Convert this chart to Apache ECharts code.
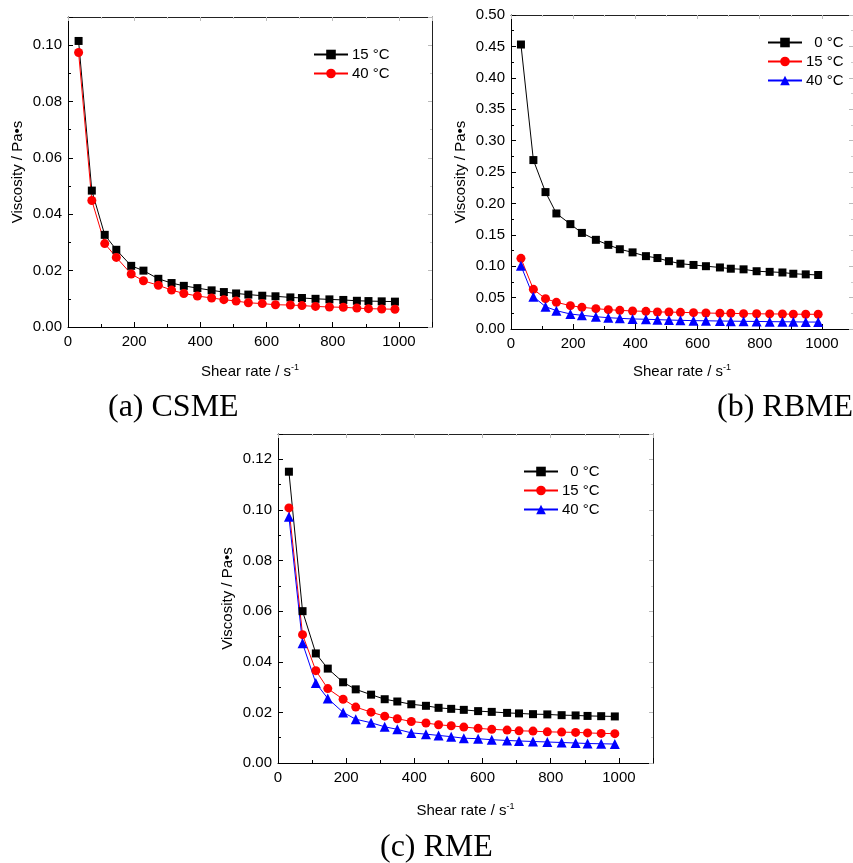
<!DOCTYPE html>
<html>
<head>
<meta charset="utf-8">
<script src="https://cdn.jsdelivr.net/npm/echarts@6/dist/echarts.min.js"></script>
<style>
  html, body { margin: 0; padding: 0; background: #fff; }
  #chart { width: 853px; height: 863px; }
</style>
</head>
<body>
<div id="chart"></div>
<script>
// shear rate (s^-1), shared by all three panels
const shearRate = [32, 72, 111, 146, 191, 228, 273, 313, 350, 391, 434, 471, 508, 545, 587, 627, 672, 707, 748, 790, 832, 873, 908, 948, 988];

// (a) CSME
const csme15 = [0.1015, 0.0484, 0.0327, 0.0274, 0.0217, 0.0200, 0.0171, 0.0156, 0.0146, 0.0138, 0.0130, 0.0124, 0.0119, 0.0115, 0.0111, 0.0109, 0.0105, 0.0103, 0.0100, 0.0098, 0.0096, 0.0093, 0.0092, 0.0091, 0.0090];
const csme40 = [0.0974, 0.0449, 0.0296, 0.0247, 0.0188, 0.0164, 0.0148, 0.0131, 0.0119, 0.0110, 0.0103, 0.0097, 0.0092, 0.0086, 0.0083, 0.0079, 0.0078, 0.0076, 0.0073, 0.0071, 0.0070, 0.0067, 0.0065, 0.0064, 0.0063];

// (b) RBME
const rbme0 = [0.453, 0.269, 0.218, 0.184, 0.167, 0.153, 0.142, 0.134, 0.127, 0.122, 0.116, 0.113, 0.108, 0.104, 0.102, 0.100, 0.098, 0.096, 0.095, 0.092, 0.091, 0.090, 0.088, 0.087, 0.086];
const rbme15 = [0.1125, 0.0632, 0.0483, 0.0425, 0.0372, 0.0345, 0.0324, 0.0308, 0.0297, 0.0287, 0.0281, 0.0271, 0.0270, 0.0265, 0.0260, 0.0255, 0.0250, 0.0250, 0.0244, 0.0242, 0.0240, 0.0239, 0.0236, 0.0235, 0.0234];
const rbme40 = [0.1008, 0.0515, 0.0356, 0.0292, 0.0239, 0.0218, 0.0196, 0.0180, 0.0170, 0.0160, 0.0155, 0.0149, 0.0143, 0.0138, 0.0133, 0.0131, 0.0127, 0.0125, 0.0122, 0.0120, 0.0117, 0.0115, 0.0114, 0.0111, 0.0110];

// (c) RME
const rme0 = [0.1151, 0.0600, 0.0433, 0.0373, 0.0319, 0.0291, 0.0270, 0.0252, 0.0243, 0.0232, 0.0226, 0.0218, 0.0214, 0.0210, 0.0205, 0.0202, 0.0198, 0.0196, 0.0193, 0.0192, 0.0189, 0.0188, 0.0186, 0.0185, 0.0184];
const rme15 = [0.1008, 0.0507, 0.0365, 0.0294, 0.0252, 0.0221, 0.0201, 0.0185, 0.0175, 0.0164, 0.0158, 0.0151, 0.0147, 0.0142, 0.0137, 0.0133, 0.0130, 0.0127, 0.0126, 0.0123, 0.0122, 0.0121, 0.0119, 0.0117, 0.0116];
const rme40 = [0.0973, 0.0473, 0.0316, 0.0255, 0.0200, 0.0173, 0.0159, 0.0143, 0.0133, 0.0119, 0.0114, 0.0109, 0.0104, 0.0098, 0.0096, 0.0092, 0.0089, 0.0087, 0.0085, 0.0083, 0.0081, 0.0079, 0.0077, 0.0076, 0.0075];

const captions = ['(a) CSME', '(b) RBME', '(c) RME'];

const FONT = '"Liberation Sans", Arial, sans-serif';
const SERIF = '"Liberation Serif", "Times New Roman", serif';

const zip = (xs, ys) => xs.map((x, i) => [x, ys[i]]);

const chart = echarts.init(document.getElementById('chart'));

// panel boxes in pixels
const panels = [
    { left: 68, top: 17, width: 364, height: 310, yMax: 0.11, yStep: 0.02, xGap: 36 },
    { left: 511, top: 15, width: 352, height: 314, yMax: 0.5, yStep: 0.05, xGap: 34 },
    { left: 278, top: 434, width: 375, height: 329, yMax: 0.13, yStep: 0.02, xGap: 39 },
];

const grids = [];
const xAxes = [];
const yAxes = [];

panels.forEach((p, i) => {
    grids.push({ left: p.left, top: p.top, width: p.width, height: p.height, containLabel: false });
    // bottom axis
    xAxes.push({
        type: 'value', gridIndex: i, min: 0, max: 1100, interval: 200,
        name: 'Shear rate / s{sup|-1}', nameLocation: 'middle', nameGap: p.xGap,
        nameTextStyle: {
            fontFamily: FONT, fontSize: 15, color: '#000',
            rich: { sup: { fontFamily: FONT, fontSize: 9, color: '#000', padding: [0, 0, 9, 0] } },
        },
        axisLine: { show: true, onZero: false, lineStyle: { color: '#000', width: 1 } },
        axisTick: { inside: true, length: 5, lineStyle: { color: '#000' } },
        minorTick: { show: true, splitNumber: 2, length: 3, lineStyle: { color: '#000' } },
        axisLabel: {
            fontFamily: FONT, fontSize: 15, color: '#000', margin: 7, showMaxLabel: false,
            formatter: v => String(v),
        },
        splitLine: { show: false },
    });
    // top mirror axis
    xAxes.push({
        type: 'value', gridIndex: i, position: 'top', min: 0, max: 1100, interval: 200,
        axisLine: { show: true, onZero: false, lineStyle: { color: '#222', width: 1 } },
        axisTick: { inside: true, length: 4, lineStyle: { color: '#bbb' } },
        minorTick: { show: true, splitNumber: 2, length: 2, lineStyle: { color: '#ccc' } },
        axisLabel: { show: false },
        splitLine: { show: false },
    });
    // left axis
    yAxes.push({
        type: 'value', gridIndex: i, min: 0, max: p.yMax, interval: p.yStep,
        name: 'Viscosity / Pa•s', nameLocation: 'middle', nameGap: 43,
        nameTextStyle: { fontFamily: FONT, fontSize: 15, color: '#000' },
        axisLine: { show: true, onZero: false, lineStyle: { color: '#000', width: 1 } },
        axisTick: { inside: true, length: 5, lineStyle: { color: '#000' } },
        minorTick: { show: true, splitNumber: 2, length: 3, lineStyle: { color: '#000' } },
        axisLabel: {
            fontFamily: FONT, fontSize: 15, color: '#000', margin: 6, showMaxLabel: p.yMax === 0.5,
            formatter: v => v.toFixed(2),
        },
        splitLine: { show: false },
    });
    // right mirror axis
    yAxes.push({
        type: 'value', gridIndex: i, position: 'right', min: 0, max: p.yMax, interval: p.yStep,
        axisLine: { show: true, onZero: false, lineStyle: { color: '#222', width: 1 } },
        axisTick: { inside: true, length: 4, lineStyle: { color: '#bbb' } },
        minorTick: { show: true, splitNumber: 2, length: 2, lineStyle: { color: '#ccc' } },
        axisLabel: { show: false },
        splitLine: { show: false },
    });
});

const mkSeries = (name, panel, data, color, symbol, size) => ({
    name: name,
    type: 'line',
    xAxisIndex: panel * 2,
    yAxisIndex: panel * 2,
    data: data,
    symbol: symbol,
    symbolSize: size,
    lineStyle: { color: color, width: 1 },
    itemStyle: { color: color },
    animation: false,
});

const series = [
    mkSeries('15 °C', 0, zip(shearRate, csme15), '#000', 'rect', 8),
    mkSeries('40 °C', 0, zip(shearRate, csme40), '#ff0000', 'circle', 9),
    mkSeries('  0 °C', 1, zip(shearRate, rbme0), '#000', 'rect', 8),
    mkSeries('15 °C ', 1, zip(shearRate, rbme15), '#ff0000', 'circle', 9),
    mkSeries('40 °C ', 1, zip(shearRate, rbme40), '#0000ff', 'triangle', 10),
    mkSeries('  0 °C ', 2, zip(shearRate, rme0), '#000', 'rect', 8),
    mkSeries('15 °C  ', 2, zip(shearRate, rme15), '#ff0000', 'circle', 9),
    mkSeries('40 °C  ', 2, zip(shearRate, rme40), '#0000ff', 'triangle', 10),
];

const mkLegend = (names, left, top) => ({
    data: names,
    orient: 'vertical',
    left: left,
    top: top,
    itemWidth: 34,
    itemHeight: 12,
    itemGap: 4,
    padding: 0,
    selectedMode: false,
    textStyle: { fontFamily: FONT, fontSize: 15, color: '#000', padding: [0, 0, 0, -1] },
});

const option = {
    backgroundColor: '#fff',
    animation: false,
    grid: grids,
    xAxis: xAxes,
    yAxis: yAxes,
    legend: [
        mkLegend(['15 °C', '40 °C'], 313, 47),
        mkLegend(['  0 °C', '15 °C ', '40 °C '], 767, 35),
        mkLegend(['  0 °C ', '15 °C  ', '40 °C  '], 523, 464),
    ],
    series: series,
    graphic: [
        { type: 'text', left: 108, top: 392, style: { text: captions[0], font: '32px ' + SERIF, fill: '#000' } },
        { type: 'text', right: 0, top: 392, style: { text: captions[1], font: '32px ' + SERIF, fill: '#000' } },
        { type: 'text', left: 380, top: 832, style: { text: captions[2], font: '32px ' + SERIF, fill: '#000' } },
    ],
};

chart.setOption(option);
</script>
</body>
</html>
